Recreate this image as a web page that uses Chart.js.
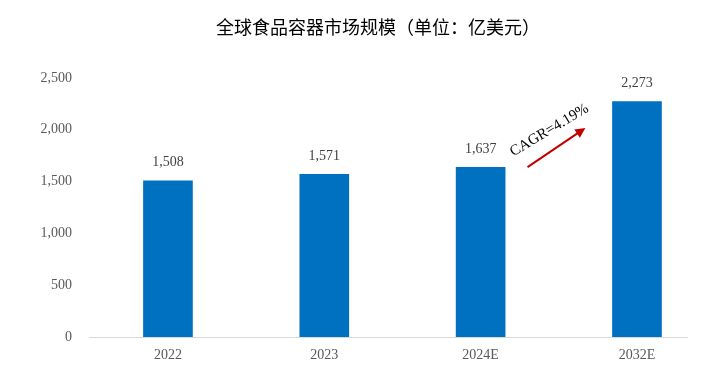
<!DOCTYPE html>
<html>
<head>
<meta charset="utf-8">
<script src="https://cdn.jsdelivr.net/npm/chart.js@4"></script>
<style>
  html, body { margin: 0; padding: 0; background: #fff; }
  #wrap { width: 710px; height: 380px; }
</style>
</head>
<body>
<div id="wrap"><canvas id="marketChart"></canvas></div>
<script>
// 全球食品容器市场规模（亿美元）
const categories = ['2022', '2023', '2024E', '2032E'];
const marketSize = [1508, 1571, 1637, 2273];
const yTicks = [0, 500, 1000, 1500, 2000, 2500];
const cagrText = 'CAGR=4.19%';

const serif = '"Liberation Serif", "Times New Roman", serif';

// 标题、数据标签和CAGR箭头
const extras = {
    id: 'extras',
    afterDatasetsDraw(chart) {
        const ctx = chart.ctx;
        const xs = chart.scales.x;
        const ys = chart.scales.y;
        ctx.save();

        ctx.fillStyle = '#000';
        ctx.font = '18px "Noto Sans CJK SC", sans-serif';
        ctx.textAlign = 'center';
        ctx.textBaseline = 'middle';
        ctx.fillText('全球食品容器市场规模（单位：亿美元）', 378, 27);

        ctx.fillStyle = '#404040';
        ctx.font = '14px ' + serif;
        marketSize.forEach(function (v, i) {
            ctx.fillText(v.toLocaleString('en-US'), xs.getPixelForValue(i), ys.getPixelForValue(v) - 18);
        });

        // 箭头
        const x1 = xs.getPixelForValue(2.30), y1 = ys.getPixelForValue(1640);
        const x2 = xs.getPixelForValue(2.67), y2 = ys.getPixelForValue(2017);
        const ang = Math.atan2(y2 - y1, x2 - x1);
        ctx.strokeStyle = '#C00000';
        ctx.fillStyle = '#C00000';
        ctx.lineWidth = 2;
        ctx.beginPath();
        ctx.moveTo(x1, y1);
        ctx.lineTo(x2 - 6 * Math.cos(ang), y2 - 6 * Math.sin(ang));
        ctx.stroke();
        ctx.beginPath();
        ctx.moveTo(x2, y2);
        ctx.lineTo(x2 - 10 * Math.cos(ang) + 5 * Math.sin(ang), y2 - 10 * Math.sin(ang) - 5 * Math.cos(ang));
        ctx.lineTo(x2 - 10 * Math.cos(ang) - 5 * Math.sin(ang), y2 - 10 * Math.sin(ang) + 5 * Math.cos(ang));
        ctx.closePath();
        ctx.fill();

        ctx.translate(xs.getPixelForValue(2.44), ys.getPixelForValue(1995));
        ctx.rotate(-31 * Math.PI / 180);
        ctx.fillStyle = '#000';
        ctx.font = '15px ' + serif;
        ctx.fillText(cagrText, 0, 0);
        ctx.restore();
    }
};

new Chart(document.getElementById('marketChart'), {
    type: 'bar',
    data: {
        datasets: [{
            data: marketSize.map(function (v, i) { return { x: i, y: v }; }),
            backgroundColor: '#0070C0',
            barThickness: 49
        }]
    },
    options: {
        responsive: true,
        maintainAspectRatio: false,
        animation: false,
        layout: { padding: { top: 78, right: 23, bottom: 0, left: 0 } },
        plugins: { legend: { display: false }, tooltip: { enabled: false } },
        scales: {
            x: {
                type: 'linear',
                offset: false,
                min: -0.505,
                max: 3.32,
                afterBuildTicks: function (scale) {
                    scale.ticks = categories.map(function (c, i) { return { value: i }; });
                },
                afterFit: function (scale) { scale.height = 43; },
                grid: { display: false, drawTicks: false, offset: false },
                border: { display: true, color: '#D9D9D9', width: 1 },
                ticks: {
                    padding: 10,
                    color: '#595959',
                    font: { family: serif, size: 14 },
                    maxRotation: 0,
                    callback: function (v) { return categories[v]; }
                }
            },
            y: {
                min: 0,
                max: 2500,
                afterBuildTicks: function (scale) {
                    scale.ticks = yTicks.map(function (v) { return { value: v }; });
                },
                afterFit: function (scale) { scale.width = 89; },
                grid: { display: false, drawTicks: false },
                border: { display: false },
                ticks: {
                    padding: 17,
                    color: '#595959',
                    font: { family: serif, size: 14 },
                    callback: function (v) { return v.toLocaleString('en-US'); }
                }
            }
        }
    },
    plugins: [extras]
});
</script>
</body>
</html>
